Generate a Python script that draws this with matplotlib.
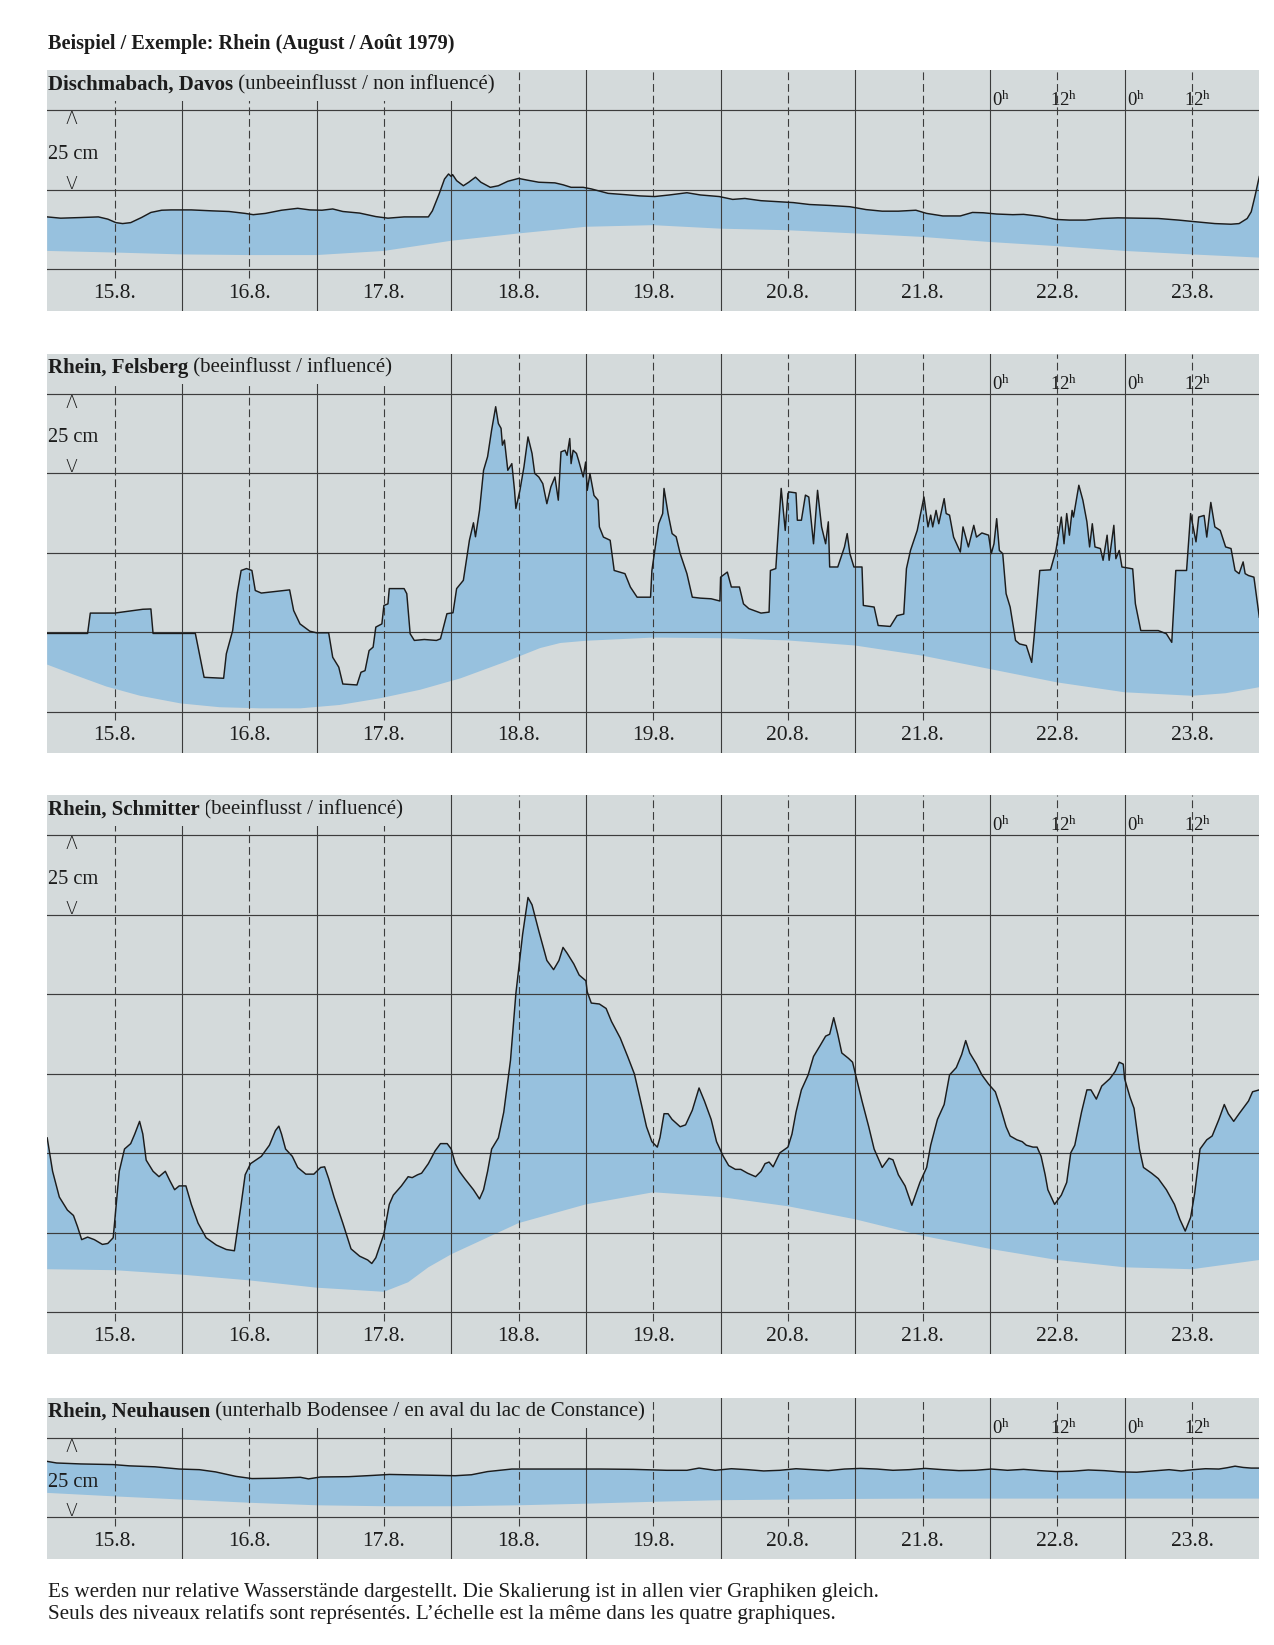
import numpy as np
import matplotlib
matplotlib.use("Agg")
import matplotlib.pyplot as plt

plt.rcParams['font.family'] = ['Liberation Serif', 'DejaVu Serif']
plt.rcParams['mathtext.fontset'] = 'custom'
plt.rcParams['mathtext.rm'] = 'Liberation Serif'
plt.rcParams['mathtext.it'] = 'Liberation Serif:italic'
plt.rcParams['mathtext.bf'] = 'Liberation Serif:bold'

# ---------------------------------------------------------------- data
# time axis: days after 15.8.1979 0h ; levels: relative water level in cm
DAY_LABELS = ["15.8.", "16.8.", "17.8.", "18.8.", "19.8.", "20.8.", "21.8.", "22.8.", "23.8."]
HOUR_TICKS = [7.0, 7.5, 8.0, 8.5]
HOUR_TEXT = ["0", "12", "0", "12"]

DISCH_T = [0, 0.10, 0.25, 0.38, 0.45, 0.51, 0.56, 0.62, 0.70, 0.77, 0.85, 0.92, 1.07, 1.225,
           1.35, 1.47, 1.53, 1.62, 1.74, 1.86, 1.95, 2.04, 2.12, 2.195, 2.32, 2.44, 2.53, 2.65,
           2.83, 2.86, 2.91, 2.95, 2.98, 3.00, 3.01, 3.04, 3.09, 3.13, 3.18, 3.22, 3.29, 3.35,
           3.42, 3.50, 3.56, 3.65, 3.77, 3.83, 3.89, 3.98, 4.04, 4.165, 4.29, 4.40, 4.51, 4.62,
           4.75, 4.85, 4.99, 5.09, 5.18, 5.30, 5.42, 5.54, 5.66, 5.81, 5.96, 6.08, 6.20, 6.32,
           6.45, 6.53, 6.65, 6.78, 6.87, 6.95, 7.05, 7.17, 7.25, 7.37, 7.49, 7.59, 7.71, 7.83,
           7.95, 8.10, 8.25, 8.40, 8.52, 8.67, 8.79, 8.85, 8.91, 8.94, 8.97, 9.0]
DISCH_CM = [16.5, 16.1, 16.3, 16.5, 15.8, 14.7, 14.4, 14.7, 16.3, 17.9, 18.6, 18.7, 18.7, 18.4,
            18.2, 17.6, 17.2, 17.6, 18.6, 19.2, 18.7, 18.6, 19.0, 18.2, 17.7, 16.6, 16.1, 16.5,
            16.5, 18.4, 23.7, 28.4, 30.0, 29.2, 29.8, 27.9, 26.3, 27.4, 29.0, 27.4, 25.8, 26.3,
            27.7, 28.6, 28.1, 27.4, 27.2, 26.6, 25.8, 25.8, 25.3, 23.9, 23.5, 23.1, 22.9, 23.4,
            24.1, 23.4, 22.9, 22.0, 22.3, 21.6, 21.3, 21.0, 20.4, 20.1, 19.7, 18.8, 18.3, 18.3,
            18.6, 17.6, 16.8, 16.8, 17.9, 17.8, 17.4, 17.2, 17.3, 16.7, 15.7, 15.5, 15.5, 16.0,
            16.2, 16.1, 16.0, 15.5, 15.0, 14.4, 14.2, 14.4, 16.0, 18.1, 23.4, 29.2]
DISCH_BASE_T = [0, 0.5, 1.0, 1.5, 2.0, 2.5, 3.0, 3.5, 4.0, 4.5, 5.0, 5.5, 6.0, 6.5, 7.0, 7.5, 8.0, 8.5, 9.0]
DISCH_BASE_CM = [5.8, 5.3, 4.7, 4.5, 4.5, 5.8, 9.0, 11.3, 13.4, 13.9, 12.8, 12.3, 11.3, 10.2, 8.6,
                 7.3, 5.8, 4.7, 3.7]

FELS_T = [0, 0.30, 0.32, 0.50, 0.71, 0.77, 0.786, 1.10, 1.165, 1.31, 1.33, 1.377, 1.41, 1.44,
          1.48, 1.52, 1.545, 1.59, 1.80, 1.83, 1.877, 1.95, 2.0, 2.09, 2.12, 2.165, 2.195, 2.30,
          2.33, 2.36, 2.39, 2.42, 2.44, 2.485, 2.50, 2.53, 2.54, 2.65, 2.67, 2.695, 2.726, 2.80,
          2.89, 2.92, 2.968, 3.013, 3.04, 3.09, 3.135, 3.165, 3.18, 3.21, 3.24, 3.27, 3.30, 3.33,
          3.35, 3.37, 3.38, 3.395, 3.42, 3.45, 3.47, 3.48, 3.51, 3.54, 3.57, 3.60, 3.62, 3.65,
          3.68, 3.71, 3.74, 3.77, 3.795, 3.815, 3.845, 3.86, 3.88, 3.89, 3.905, 3.93, 3.945, 3.98,
          3.998, 4.01, 4.03, 4.06, 4.09, 4.10, 4.13, 4.18, 4.21, 4.29, 4.33, 4.38, 4.48, 4.49,
          4.54, 4.57, 4.58, 4.61, 4.64, 4.67, 4.70, 4.75, 4.79, 4.85, 4.93, 4.995, 5.0, 5.05,
          5.08, 5.14, 5.17, 5.21, 5.30, 5.36, 5.37, 5.41, 5.43, 5.45, 5.48, 5.50, 5.51, 5.56,
          5.57, 5.60, 5.63, 5.655, 5.69, 5.72, 5.75, 5.78, 5.80, 5.81, 5.87, 5.92, 5.94, 5.96,
          5.99, 6.05, 6.06, 6.14, 6.17, 6.26, 6.31, 6.36, 6.38, 6.41, 6.46, 6.51, 6.54, 6.56,
          6.575, 6.60, 6.62, 6.66, 6.675, 6.70, 6.73, 6.78, 6.80, 6.84, 6.88, 6.90, 6.94, 6.99,
          7.01, 7.03, 7.05, 7.07, 7.095, 7.12, 7.15, 7.19, 7.22, 7.27, 7.31, 7.33, 7.37, 7.45,
          7.49, 7.53, 7.55, 7.57, 7.59, 7.61, 7.62, 7.66, 7.69, 7.72, 7.74, 7.76, 7.78, 7.82,
          7.84, 7.87, 7.885, 7.92, 7.935, 7.96, 7.98, 8.06, 8.08, 8.12, 8.25, 8.31, 8.35, 8.38,
          8.46, 8.49, 8.53, 8.55, 8.59, 8.61, 8.64, 8.67, 8.71, 8.75, 8.79, 8.82, 8.85, 8.88,
          8.895, 8.92, 8.96, 9.0]
FELS_CM = [24.6, 24.6, 31.0, 31.0, 32.2, 32.3, 24.6, 24.6, 10.8, 10.5, 18.2, 25.5, 37.1, 44.4,
           45.0, 44.4, 38.1, 37.3, 38.3, 31.8, 27.6, 25.3, 24.8, 24.8, 17.1, 14.0, 8.7, 8.4,
           12.4, 12.9, 19.2, 20.3, 26.6, 27.6, 33.4, 33.9, 38.7, 38.7, 37.1, 24.5, 22.4, 22.7,
           22.4, 22.9, 30.8, 31.1, 38.7, 41.3, 53.9, 59.4, 55.0, 63.3, 75.9, 80.2, 88.6, 95.9,
           90.6, 89.1, 83.8, 85.4, 75.9, 78.0, 69.6, 63.9, 69.6, 77.0, 86.4, 81.2, 74.9, 73.8,
           71.7, 65.4, 70.7, 73.8, 66.5, 81.7, 82.2, 80.6, 85.9, 78.0, 82.2, 81.2, 79.1, 73.8,
           78.5, 69.6, 74.9, 68.0, 66.5, 58.1, 54.9, 53.9, 44.4, 43.4, 39.2, 36.0, 36.0, 44.4,
           59.1, 62.3, 70.2, 62.3, 56.0, 55.0, 49.7, 43.4, 36.0, 35.7, 35.5, 34.8, 42.3, 43.9,
           39.2, 39.2, 33.9, 32.4, 31.0, 31.3, 44.4, 45.0, 58.1, 70.2, 57.0, 68.6, 69.1, 68.8,
           60.2, 60.2, 68.1, 67.5, 52.8, 69.6, 58.1, 52.8, 59.7, 45.5, 45.5, 51.8, 56.0, 49.7,
           45.5, 45.5, 33.4, 32.9, 27.1, 26.8, 30.2, 30.7, 45.0, 50.7, 57.0, 67.5, 58.1, 61.8,
           58.1, 63.3, 59.1, 67.0, 62.3, 61.8, 54.9, 50.2, 58.1, 51.8, 58.6, 54.9, 56.2, 55.5,
           49.7, 52.8, 60.7, 50.7, 49.7, 37.1, 32.9, 22.4, 21.3, 20.8, 15.5, 24.5, 44.4, 44.6,
           50.7, 61.2, 52.8, 62.3, 55.5, 63.3, 61.2, 71.2, 66.5, 59.7, 51.8, 59.1, 51.8, 51.3,
           47.6, 55.5, 47.6, 58.6, 48.1, 50.7, 45.5, 44.9, 33.9, 25.5, 25.5, 24.5, 21.8, 44.4,
           44.4, 62.3, 53.4, 61.2, 61.7, 54.9, 65.8, 58.1, 57.0, 51.8, 51.3, 44.4, 43.4, 47.1,
           43.4, 42.8, 42.3, 29.7]
FELS_BASE_T = [0, 0.2, 0.44, 0.69, 0.99, 1.28, 1.58, 1.88, 2.17, 2.47, 2.77, 3.07, 3.41, 3.66,
               3.81, 4.0, 4.5, 5.0, 5.5, 6.0, 6.5, 7.0, 7.5, 8.0, 8.5, 8.75, 9.0]
FELS_BASE_CM = [14.8, 11.6, 7.9, 5.0, 2.6, 1.4, 1.05, 1.05, 2.1, 4.2, 6.9, 10.5, 15.8, 20.0,
                21.6, 22.3, 23.3, 23.1, 22.4, 20.8, 17.6, 13.4, 9.2, 6.1, 5.0, 5.8, 7.7]

SCHM_T = [0, 0.04, 0.09, 0.15, 0.195, 0.225, 0.256, 0.30, 0.35, 0.41, 0.45, 0.49, 0.51, 0.535,
          0.574, 0.62, 0.65, 0.686, 0.71, 0.735, 0.786, 0.83, 0.877, 0.91, 0.946, 0.98, 1.03,
          1.07, 1.12, 1.18, 1.256, 1.33, 1.39, 1.44, 1.47, 1.51, 1.59, 1.65, 1.695, 1.72, 1.74,
          1.77, 1.82, 1.86, 1.92, 1.98, 2.03, 2.06, 2.09, 2.13, 2.195, 2.256, 2.32, 2.38, 2.41,
          2.44, 2.50, 2.54, 2.57, 2.63, 2.68, 2.71, 2.75, 2.78, 2.83, 2.88, 2.92, 2.97, 3.0,
          3.03, 3.06, 3.10, 3.165, 3.21, 3.24, 3.27, 3.30, 3.35, 3.39, 3.44, 3.48, 3.53, 3.57,
          3.60, 3.65, 3.71, 3.76, 3.80, 3.83, 3.86, 3.91, 3.95, 4.0, 4.01, 4.04, 4.10, 4.15,
          4.19, 4.255, 4.31, 4.36, 4.40, 4.45, 4.49, 4.53, 4.55, 4.58, 4.61, 4.64, 4.70, 4.74,
          4.79, 4.84, 4.88, 4.93, 4.97, 5.02, 5.06, 5.11, 5.15, 5.20, 5.26, 5.30, 5.33, 5.36,
          5.39, 5.44, 5.50, 5.53, 5.56, 5.60, 5.65, 5.69, 5.74, 5.78, 5.81, 5.84, 5.87, 5.90,
          5.95, 5.98, 6.01, 6.05, 6.10, 6.14, 6.20, 6.25, 6.28, 6.32, 6.37, 6.42, 6.48, 6.53,
          6.56, 6.61, 6.66, 6.70, 6.75, 6.79, 6.82, 6.85, 6.90, 6.94, 6.99, 7.04, 7.08, 7.12,
          7.15, 7.20, 7.24, 7.27, 7.32, 7.35, 7.38, 7.41, 7.43, 7.48, 7.53, 7.57, 7.60, 7.63,
          7.68, 7.72, 7.75, 7.79, 7.83, 7.89, 7.93, 7.96, 7.99, 8.0, 8.04, 8.07, 8.11, 8.14,
          8.20, 8.25, 8.31, 8.37, 8.41, 8.45, 8.49, 8.52, 8.56, 8.61, 8.65, 8.70, 8.74, 8.77,
          8.81, 8.85, 8.89, 8.92, 8.95, 9.0]
SCHM_CM = [54.9, 44.4, 36.3, 32.2, 30.5, 27.0, 22.9, 23.7, 22.9, 21.4, 21.7, 23.5, 32.8, 44.4,
           51.4, 53.1, 56.1, 60.1, 56.1, 47.9, 44.4, 42.7, 44.4, 41.5, 38.6, 39.8, 39.8,
           34.0, 28.1, 23.5, 21.2, 19.8, 19.4, 34.0, 43.3, 46.8, 49.1, 52.6, 57.2, 58.6, 56.1,
           51.4, 49.1, 45.6, 43.5, 43.5, 45.6, 45.8, 42.1, 36.3, 28.1, 20.0, 17.7, 16.5, 15.4,
           17.2, 24.7, 34.0, 36.9, 39.8, 42.7, 42.4, 43.3, 43.8, 46.8, 50.8, 53.1, 53.1, 51.4,
           46.8, 44.4, 42.1, 38.6, 35.7, 38.6, 44.4, 51.4, 54.9, 63.0, 79.3, 100.3, 118.9, 130.5,
           128.2, 120.0, 110.7, 107.8, 110.7, 114.8, 113.0, 109.6, 106.1, 104.3, 100.8, 97.3, 97.0, 95.6,
           91.5, 86.3, 80.5, 75.0, 67.7, 58.4, 53.7, 52.0, 55.0, 62.5, 62.5, 60.7, 58.4, 59.0,
           63.6, 70.6, 66.5, 60.7, 53.7, 49.1, 46.2, 45.0, 45.0, 43.8, 42.7, 44.4, 46.8, 47.3,
           45.8, 50.2, 52.0, 56.1, 63.0, 70.0, 74.7, 80.5, 84.0, 86.9, 87.5, 92.7, 87.5, 81.6,
           79.9, 78.7, 73.5, 66.5, 58.4, 51.4, 45.6, 48.5, 48.0, 43.3, 39.8, 33.7, 40.9, 45.6,
           52.6, 60.7, 65.4, 74.7, 77.0, 81.1, 85.5, 81.6, 78.1, 74.7, 71.8, 69.4, 64.2, 58.4,
           55.5, 54.3, 53.7, 52.6, 52.0, 52.0, 49.1, 43.3, 38.6, 34.0, 36.9, 40.9, 50.2, 52.6,
           63.0, 70.0, 70.0, 67.1, 71.2, 73.5, 75.8, 78.7, 78.1, 73.5, 67.7, 64.2, 51.4, 45.6,
           43.8, 42.1, 38.6, 34.0, 29.3, 25.6, 29.9, 37.4, 51.4, 54.3, 55.5, 60.7, 65.4, 62.5,
           60.1, 62.5, 64.8, 66.5, 69.4, 70.0]
SCHM_BASE_T = [0, 0.5, 1.0, 1.5, 2.0, 2.5, 2.68, 2.83, 3.0, 3.5, 4.0, 4.5, 5.0, 5.5, 6.0, 6.5,
               7.0, 7.5, 8.0, 8.5, 9.0]
SCHM_BASE_CM = [13.6, 13.3, 11.9, 10.1, 7.8, 6.5, 9.5, 14.2, 18.3, 28.1, 34.0, 37.8, 36.3, 33.4,
                29.3, 24.1, 20.0, 16.5, 14.2, 13.6, 16.5]

NEUH_T = [0, 0.07, 0.25, 0.49, 0.61, 0.80, 0.98, 1.13, 1.25, 1.40, 1.52, 1.70, 1.88, 1.94, 2.03,
          2.24, 2.42, 2.54, 2.79, 3.03, 3.15, 3.27, 3.45, 3.63, 3.87, 4.11, 4.35, 4.60, 4.75,
          4.84, 4.96, 5.08, 5.2, 5.32, 5.44, 5.56, 5.68, 5.80, 5.92, 6.04, 6.16, 6.28, 6.40, 6.52,
          6.65, 6.77, 6.89, 7.01, 7.13, 7.25, 7.37, 7.49, 7.61, 7.73, 7.85, 7.97, 8.09, 8.21,
          8.33, 8.42, 8.51, 8.60, 8.70, 8.76, 8.82, 8.88, 8.94, 9.0]
NEUH_CM = [17.6, 17.1, 16.8, 16.6, 16.2, 15.9, 15.2, 15.0, 14.3, 12.9, 12.2, 12.3, 12.6, 12.1,
           12.7, 12.8, 13.2, 13.5, 13.3, 13.1, 13.4, 14.4, 15.2, 15.2, 15.2, 15.2, 15.1, 14.8,
           14.8, 15.5, 14.8, 15.3, 15.0, 14.6, 14.8, 15.3, 15.0, 14.7, 15.2, 15.4, 15.2, 14.8,
           15.0, 15.4, 15.0, 14.7, 14.8, 15.2, 14.8, 15.1, 14.7, 14.4, 14.5, 14.9, 14.7, 14.3,
           14.2, 14.6, 15.0, 14.6, 15.0, 15.3, 15.2, 15.6, 16.1, 15.7, 15.5, 15.5]
NEUH_BASE_T = [0, 0.5, 1.0, 1.5, 2.0, 2.5, 3.0, 3.5, 4.0, 4.5, 5.0, 5.5, 6.0, 6.5, 7.0, 7.5, 8.0, 8.5, 9.0]
NEUH_BASE_CM = [7.7, 6.6, 5.6, 4.6, 3.8, 3.5, 3.5, 3.8, 4.3, 4.9, 5.4, 5.6, 5.8, 5.9, 5.9, 5.9,
                5.9, 5.9, 5.9]

PANELS = [
    ("Dischmabach, Davos", " (unbeeinflusst / non influencé)", 2, 70.3,
     DISCH_T, DISCH_CM, DISCH_BASE_T, DISCH_BASE_CM),
    ("Rhein, Felsberg", " (beeinflusst / influencé)", 4, 353.6,
     FELS_T, FELS_CM, FELS_BASE_T, FELS_BASE_CM),
    ("Rhein, Schmitter", " (beeinflusst / influencé)", 6, 795.4,
     SCHM_T, SCHM_CM, SCHM_BASE_T, SCHM_BASE_CM),
    ("Rhein, Neuhausen", " (unterhalb Bodensee / en aval du lac de Constance)", 1, 1397.8,
     NEUH_T, NEUH_CM, NEUH_BASE_T, NEUH_BASE_CM),
]

TITLE = "Beispiel / Exemple: Rhein (August / Août 1979)"
FOOTER = ["Es werden nur relative Wasserstände dargestellt. Die Skalierung ist in allen vier Graphiken gleich.",
          "Seuls des niveaux relatifs sont représentés. L’échelle est la même dans les quatre graphiques."]

# ---------------------------------------------------------------- style
W, H = 1274, 1645
LEFT_PX, RIGHT_PX = 47.2, 1259.3
PX_PER_CM = 3.18
TOP_CM, BOTTOM_CM = 12.6, 13.0
PX_PER_DAY = (RIGHT_PX - LEFT_PX) / 9.0

PAPER = "#d4dadb"
WATER = "#97c1de"
GRID = "#3c3c3c"
INK = "#1c1c1c"
FS = 15.0

fig = plt.figure(figsize=(W / 100, H / 100), dpi=100)
fig.patch.set_facecolor("white")

fig.text(LEFT_PX / W + 0.0005, 1 - 49.5 / H, TITLE, fontsize=14.6, fontweight="bold",
         color=INK, ha="left", va="baseline")

for bold, rest, n, top_px, t_up, v_up, t_lo, v_lo in PANELS:
    t_up = np.asarray(t_up); v_up = np.asarray(v_up)
    t_lo = np.asarray(t_lo); v_lo = np.asarray(v_lo)
    y_top = n * 25 + TOP_CM
    h_px = (y_top + BOTTOM_CM) * PX_PER_CM
    ax = fig.add_axes([LEFT_PX / W, 1 - (top_px + h_px) / H,
                       (RIGHT_PX - LEFT_PX) / W, h_px / H])
    ax.set_xlim(0, 9)
    ax.set_ylim(-BOTTOM_CM, y_top)
    ax.set_facecolor(PAPER)
    for s in ax.spines.values():
        s.set_visible(False)
    ax.set_xticks([]); ax.set_yticks([])

    # water body between the recorded level and its smoothed base
    ax.fill(np.concatenate([t_up, t_lo[::-1]]), np.concatenate([v_up, v_lo[::-1]]),
            color=WATER, lw=0, zorder=1)

    # grid: 25 cm steps, midnight (solid) and noon (dashed)
    for k in range(n + 1):
        ax.axhline(25 * k, color=GRID, lw=0.85, zorder=2)
    for d in range(1, 9):
        ax.axvline(d, color=GRID, lw=0.8, zorder=2)
    ax.vlines(np.arange(9) + 0.5, -2.6, y_top, colors=GRID, lw=0.8,
              linestyles=(0, (7, 3.5)), zorder=2)

    ax.plot(t_up, v_up, color=INK, lw=1.05, zorder=4, solid_joinstyle="round")

    # panel heading, masking the grid beneath it
    t1 = ax.text(0.004, n * 25 + 6.6, bold, fontsize=FS, fontweight="bold", color=INK,
                 ha="left", va="baseline", zorder=7, clip_on=True,
                 bbox=dict(facecolor=PAPER, edgecolor="none", pad=4.5))
    ax.annotate(rest, xy=(1, 0), xycoords=t1, xytext=(0, 0), textcoords="offset points",
                fontsize=FS, color=INK, ha="left", va="bottom", zorder=6,
                annotation_clip=False, clip_on=True,
                bbox=dict(facecolor=PAPER, edgecolor="none", pad=4.5))

    # 25 cm scale marker
    ax.text(0.182, n * 25 - 4.4, "Λ", fontsize=12.5, family="DejaVu Sans", fontweight="light",
            color=INK, ha="center", va="baseline", zorder=6)
    ax.text(0.182, n * 25 - 24.6, "V", fontsize=12.5, family="DejaVu Sans", fontweight="light",
            color=INK, ha="center", va="baseline", zorder=6)
    ax.text(0.008, n * 25 - 15.3, "25 cm", fontsize=FS - 0.3, color=INK, ha="left",
            va="baseline", zorder=6)

    # hour marks
    for x, lab in zip(HOUR_TICKS, HOUR_TEXT):
        off = 2.0 if lab == "0" else -7.5
        ax.text(x + off / PX_PER_DAY, n * 25 + 1.3, lab + r"$^{\mathrm{h}}$", fontsize=FS - 1.5,
                color=INK, ha="left", va="baseline", zorder=6)

    # day labels at noon
    for d, lab in enumerate(DAY_LABELS):
        ax.text(d + 0.5, -8.9, lab, fontsize=FS + 0.5, color=INK, ha="center", va="baseline",
                zorder=6)

for i, line in enumerate(FOOTER):
    fig.text(LEFT_PX / W + 0.001, 1 - (1597 + i * 21.5) / H, line, fontsize=15.2,
             color=INK, ha="left", va="baseline")

fig.savefig("out.png", dpi=100, facecolor="white")
